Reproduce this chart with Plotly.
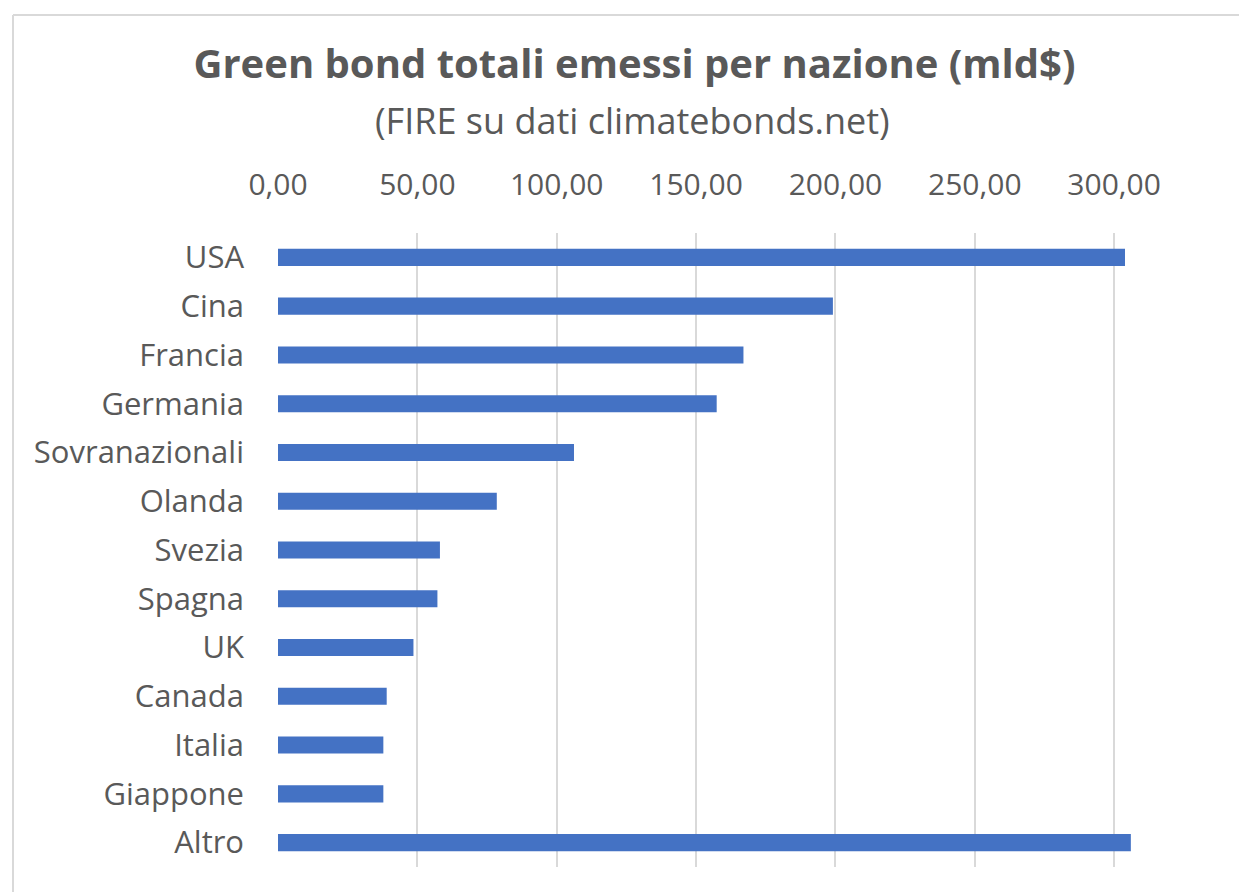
import plotly.graph_objects as go

categories = ["USA", "Cina", "Francia", "Germania", "Sovranazionali", "Olanda",
              "Svezia", "Spagna", "UK", "Canada", "Italia", "Giappone", "Altro"]
values = [303.9, 199.1, 167.0, 157.4, 106.2, 78.5, 58.1, 57.2, 48.6, 39.0, 37.8, 37.8, 306.0]
tick_values = [0, 50, 100, 150, 200, 250, 300]

title_text = "Green bond totali emessi per nazione (mld$)"
subtitle_text = "(FIRE su dati climatebonds.net)"

W, H = 1239, 892
ML, MR, MT, MB = 278, 97, 233, 25
PW = W - ML - MR
PH = H - MT - MB

def px_to_paper_x(x):
    return (x - ML) / PW

def px_to_paper_y(y):
    return (H - MB - y) / PH

FONT = "Open Sans"
GREY = "#595959"

fig = go.Figure(go.Bar(
    x=values,
    y=categories,
    orientation="h",
    marker=dict(color="#4472C4", line=dict(width=0)),
))

fig.update_layout(
    width=W, height=H,
    margin=dict(l=ML, r=MR, t=MT, b=MB),
    paper_bgcolor="white",
    plot_bgcolor="white",
    separators=",.",
    bargap=0.65,
    showlegend=False,
    font=dict(family=FONT, color=GREY),
    title=dict(
        text="<b>" + title_text + "</b>",
        x=634.5 / W, xanchor="center", xref="container",
        y=1 - 64 / H, yanchor="middle", yref="container",
        font=dict(family=FONT, size=40, color=GREY),
    ),
    annotations=[dict(
        text=subtitle_text,
        xref="paper", yref="paper",
        x=px_to_paper_x(632.5), y=px_to_paper_y(120),
        xanchor="center", yanchor="middle",
        showarrow=False,
        font=dict(family=FONT, size=36, color=GREY),
    )],
    shapes=[
        dict(type="line", xref="paper", yref="paper",
             x0=px_to_paper_x(13), x1=px_to_paper_x(13),
             y0=px_to_paper_y(15), y1=px_to_paper_y(892),
             line=dict(color="#D9D9D9", width=2)),
        dict(type="line", xref="paper", yref="paper",
             x0=px_to_paper_x(13), x1=px_to_paper_x(1239),
             y0=px_to_paper_y(15), y1=px_to_paper_y(15),
             line=dict(color="#D9D9D9", width=2)),
    ],
)

fig.update_xaxes(
    side="top",
    range=[0, 310],
    tickvals=tick_values,
    tickformat=".2f",
    showgrid=True, gridcolor="#D9D9D9", gridwidth=1.5,
    zeroline=False,
    showline=False,
    ticks="",
    ticklabelstandoff=31,
    tickfont=dict(family=FONT, size=30, color=GREY),
)
fig.update_yaxes(
    autorange="reversed",
    showgrid=False,
    zeroline=False,
    showline=False,
    ticks="",
    ticklabelstandoff=33,
    tickfont=dict(family=FONT, size=31, color=GREY),
)

fig.write_html("out.html")
